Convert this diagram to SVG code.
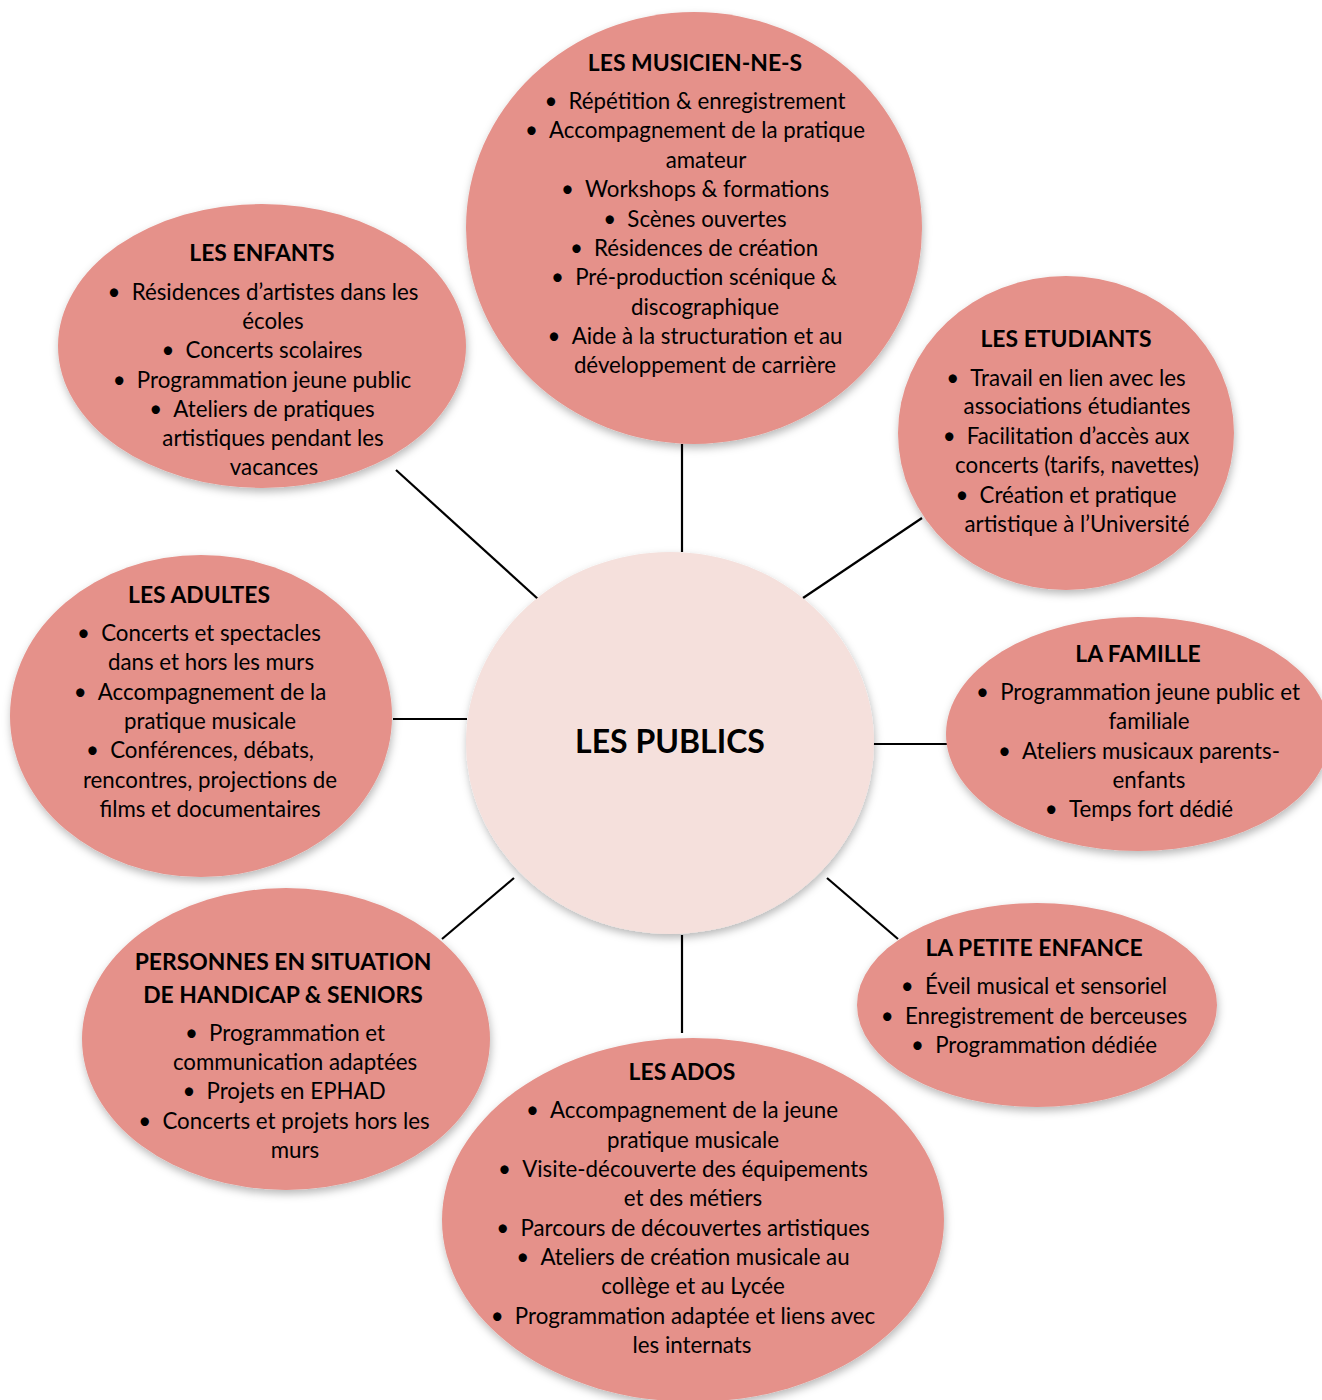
<svg xmlns="http://www.w3.org/2000/svg" width="1322" height="1400" viewBox="0 0 1322 1400">
<defs>
<filter id="sh" x="-10%" y="-10%" width="120%" height="125%">
<feDropShadow dx="1" dy="4" stdDeviation="4" flood-color="#000" flood-opacity="0.28"/>
</filter>
</defs>
<style>
.n{fill:#E5918A;filter:url(#sh)}
.c{fill:#F5E0DC;filter:url(#sh)}
text{font-family:Lato,"Open Sans","Liberation Sans",sans-serif;fill:#000;text-anchor:middle}
.t{font-weight:bold;font-size:22.9px}
.b{font-size:22.3px}
.big{font-weight:bold;font-size:32px}
.ln{stroke:#000;stroke-width:2.2;fill:none}
</style>
<rect width="1322" height="1400" fill="#fff"/>
<g id="connectors">
<line class="ln" x1="682" y1="444" x2="682" y2="552"/>
<line class="ln" x1="396" y1="470" x2="538" y2="599"/>
<line class="ln" x1="922" y1="518" x2="803" y2="598"/>
<line class="ln" x1="393" y1="719" x2="467" y2="719"/>
<line class="ln" x1="873" y1="744" x2="947" y2="744"/>
<line class="ln" x1="827" y1="878" x2="898" y2="939"/>
<line class="ln" x1="514" y1="878" x2="442" y2="939"/>
<line class="ln" x1="682" y1="935" x2="682" y2="1033"/>
</g>
<g id="musiciens">
<ellipse class="n" cx="694" cy="228" rx="228" ry="216"/>
<text class="t" x="695" y="71">LES MUSICIEN-NE-S</text>
<text class="b" x="695" y="109">•&#8194;Répétition &amp; enregistrement</text>
<text class="b" x="695" y="138">•&#8194;Accompagnement de la pratique</text>
<text class="b" x="706" y="168">amateur</text>
<text class="b" x="695" y="197">•&#8194;Workshops &amp; formations</text>
<text class="b" x="695" y="227">•&#8194;Scènes ouvertes</text>
<text class="b" x="694" y="256">•&#8194;Résidences de création</text>
<text class="b" x="694" y="285">•&#8194;Pré-production scénique &amp;</text>
<text class="b" x="705" y="315">discographique</text>
<text class="b" x="695" y="344">•&#8194;Aide à la structuration et au</text>
<text class="b" x="705" y="373">développement de carrière</text>
</g>
<g id="enfants">
<ellipse class="n" cx="262" cy="346" rx="204" ry="142"/>
<text class="t" x="262" y="261">LES ENFANTS</text>
<text class="b" x="263" y="300">•&#8194;Résidences d’artistes dans les</text>
<text class="b" x="273" y="329">écoles</text>
<text class="b" x="262" y="358">•&#8194;Concerts scolaires</text>
<text class="b" x="262" y="388">•&#8194;Programmation jeune public</text>
<text class="b" x="262" y="417">•&#8194;Ateliers de pratiques</text>
<text class="b" x="273" y="446">artistiques pendant les</text>
<text class="b" x="274" y="475">vacances</text>
</g>
<g id="etudiants">
<ellipse class="n" cx="1066" cy="433" rx="168" ry="157"/>
<text class="t" x="1066" y="347">LES ETUDIANTS</text>
<text class="b" x="1066" y="386">•&#8194;Travail en lien avec les</text>
<text class="b" x="1077" y="414">associations étudiantes</text>
<text class="b" x="1066" y="444">•&#8194;Facilitation d’accès aux</text>
<text class="b" x="1077" y="473">concerts (tarifs, navettes)</text>
<text class="b" x="1066" y="503">•&#8194;Création et pratique</text>
<text class="b" x="1077" y="532">artistique à l’Université</text>
</g>
<g id="adultes">
<ellipse class="n" cx="201" cy="716" rx="191" ry="161"/>
<text class="t" x="199" y="603">LES ADULTES</text>
<text class="b" x="199" y="641">•&#8194;Concerts et spectacles</text>
<text class="b" x="211" y="670">dans et hors les murs</text>
<text class="b" x="200" y="700">•&#8194;Accompagnement de la</text>
<text class="b" x="210" y="729">pratique musicale</text>
<text class="b" x="200" y="758">•&#8194;Conférences, débats,</text>
<text class="b" x="210" y="788">rencontres, projections de</text>
<text class="b" x="210" y="817">films et documentaires</text>
</g>
<g id="publics">
<ellipse class="c" cx="670" cy="743" rx="204" ry="191"/>
<text class="big" x="670" y="753">LES PUBLICS</text>
</g>
<g id="famille">
<ellipse class="n" cx="1138" cy="734" rx="192" ry="117"/>
<text class="t" x="1138" y="662">LA FAMILLE</text>
<text class="b" x="1138" y="700">•&#8194;Programmation jeune public et</text>
<text class="b" x="1149" y="729">familiale</text>
<text class="b" x="1139" y="759">•&#8194;Ateliers musicaux parents-</text>
<text class="b" x="1149" y="788">enfants</text>
<text class="b" x="1139" y="817">•&#8194;Temps fort dédié</text>
</g>
<g id="petite-enfance">
<ellipse class="n" cx="1037" cy="1005" rx="180" ry="102"/>
<text class="t" x="1034" y="956">LA PETITE ENFANCE</text>
<text class="b" x="1034" y="994">•&#8194;Éveil musical et sensoriel</text>
<text class="b" x="1034" y="1024">•&#8194;Enregistrement de berceuses</text>
<text class="b" x="1034" y="1053">•&#8194;Programmation dédiée</text>
</g>
<g id="handicap-seniors">
<ellipse class="n" cx="286" cy="1039" rx="204" ry="151"/>
<text class="t" x="283" y="970">PERSONNES EN SITUATION</text>
<text class="t" x="283" y="1003">DE HANDICAP &amp; SENIORS</text>
<text class="b" x="285" y="1041">•&#8194;Programmation et</text>
<text class="b" x="295" y="1070">communication adaptées</text>
<text class="b" x="284" y="1099">•&#8194;Projets en EPHAD</text>
<text class="b" x="284" y="1129">•&#8194;Concerts et projets hors les</text>
<text class="b" x="295" y="1158">murs</text>
</g>
<g id="ados">
<ellipse class="n" cx="693" cy="1220" rx="251" ry="182"/>
<text class="t" x="682" y="1080">LES ADOS</text>
<text class="b" x="682" y="1118">•&#8194;Accompagnement de la jeune</text>
<text class="b" x="693" y="1148">pratique musicale</text>
<text class="b" x="683" y="1177">•&#8194;Visite-découverte des équipements</text>
<text class="b" x="693" y="1206">et des métiers</text>
<text class="b" x="683" y="1236">•&#8194;Parcours de découvertes artistiques</text>
<text class="b" x="683" y="1265">•&#8194;Ateliers de création musicale au</text>
<text class="b" x="693" y="1294">collège et au Lycée</text>
<text class="b" x="683" y="1324">•&#8194;Programmation adaptée et liens avec</text>
<text class="b" x="692" y="1353">les internats</text>
</g>
</svg>
